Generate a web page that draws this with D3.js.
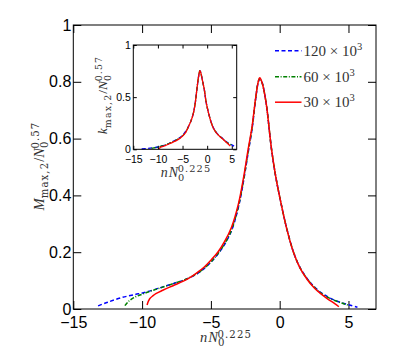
<!DOCTYPE html>
<html>
<head>
<meta charset="utf-8">
<style>
  body { margin: 0; background: #fff; }
  svg { display: block; }
  .tick text { font-family: "Liberation Sans", Arial, sans-serif; fill: #000; }
  .math { font-family: "Liberation Serif", "Times New Roman", serif; fill: #333; }
  .script { font-family: "DejaVu Serif", serif; letter-spacing: 1.1px; }
</style>
</head>
<body>
<svg width="415" height="349"></svg>
<script src="https://d3js.org/d3.v7.min.js"></script>
<script>
// ---- data ----
// main panel: M_max,2 / N0^0.57 against n N0^0.225
const blueN  = [-13.2, -12.5, -11.5, -10.5, -9.9, -9.0, -8.5, -7.5, -7.0, -6.0, -5.5, -5.0, -4.5, -4.0, -3.5, -3.0, -2.6, -2.3, -2.0, -1.75, -1.55, -1.45, -1.3, -1.0, -0.6, -0.3, 0, 0.5, 1.0, 1.5, 2.0, 2.5, 3.0, 3.5, 4.0, 4.5, 5.0, 5.65]
const blueM  = [0.011, 0.024, 0.040, 0.051, 0.057, 0.070, 0.078, 0.093, 0.101, 0.124, 0.142, 0.165, 0.193, 0.228, 0.276, 0.358, 0.458, 0.548, 0.636, 0.738, 0.800, 0.810, 0.800, 0.730, 0.565, 0.470, 0.395, 0.286, 0.201, 0.144, 0.107, 0.079, 0.058, 0.043, 0.031, 0.022, 0.015, 0.006]

const greenN = [-11.25, -11.0, -10.6, -10.0, -9.5, -9.0, -8.5, -7.5, -7.0, -6.0, -5.5, -5.0, -4.5, -4.0, -3.5, -3.0, -2.6, -2.3, -2.0, -1.75, -1.55, -1.45, -1.3, -1.0, -0.6, -0.3, 0, 0.5, 1.0, 1.5, 2.0, 2.5, 3.0, 3.5, 4.0, 4.5, 5.0]
const greenM = [0.012, 0.026, 0.040, 0.052, 0.061, 0.069, 0.077, 0.093, 0.101, 0.125, 0.143, 0.166, 0.194, 0.230, 0.279, 0.362, 0.462, 0.552, 0.640, 0.740, 0.802, 0.812, 0.800, 0.730, 0.565, 0.470, 0.395, 0.286, 0.201, 0.143, 0.106, 0.077, 0.056, 0.041, 0.030, 0.021, 0.013]

const redN   = [-9.64, -9.45, -9.2, -9.0, -8.5, -8.0, -7.5, -7.0, -6.5, -6.0, -5.5, -5.0, -4.5, -4.0, -3.5, -3.0, -2.6, -2.3, -2.0, -1.75, -1.55, -1.45, -1.3, -1.0, -0.6, -0.3, 0, 0.5, 1.0, 1.5, 2.0, 2.5, 3.0, 3.5, 4.0, 4.3]
const redM   = [0.014, 0.036, 0.047, 0.054, 0.066, 0.077, 0.087, 0.098, 0.111, 0.128, 0.147, 0.172, 0.200, 0.238, 0.288, 0.370, 0.470, 0.560, 0.645, 0.742, 0.802, 0.814, 0.800, 0.730, 0.565, 0.470, 0.395, 0.285, 0.200, 0.142, 0.104, 0.075, 0.053, 0.035, 0.019, 0.008]

// inset: k_max,2 / N0^0.57
const kBlueN  = [-13.3, -12.0, -11.0, -10.0, -9.0, -8.0, -7.0, -6.0, -5.0, -4.2, -3.8, -3.3, -2.8, -2.4, -2.1, -1.8, -1.6, -1.46, -1.3, -1.0, -0.57, -0.2, 0.3, 0.8, 1.3, 2.0, 3.0, 4.0, 5.0, 5.9]
const kBlueY  = [0.003, 0.008, 0.014, 0.022, 0.035, 0.050, 0.075, 0.098, 0.135, 0.185, 0.217, 0.270, 0.345, 0.450, 0.569, 0.680, 0.735, 0.755, 0.735, 0.670, 0.569, 0.450, 0.345, 0.262, 0.203, 0.153, 0.110, 0.070, 0.042, 0.020]

const kGreenN = [-11.3, -10.5, -9.5, -8.5, -7.5, -6.5, -5.5, -4.5, -3.8, -3.3, -2.8, -2.4, -2.1, -1.8, -1.6, -1.46, -1.3, -1.0, -0.57, -0.2, 0.3, 0.8, 1.3, 2.0, 3.0, 4.0, 5.2]
const kGreenY = [0.008, 0.016, 0.028, 0.042, 0.062, 0.084, 0.110, 0.155, 0.217, 0.270, 0.345, 0.450, 0.569, 0.680, 0.735, 0.758, 0.735, 0.670, 0.569, 0.450, 0.345, 0.261, 0.201, 0.151, 0.107, 0.066, 0.036]

const kRedN   = [-9.7, -9.5, -8.5, -7.5, -6.5, -5.5, -4.5, -3.8, -3.3, -2.8, -2.4, -2.1, -1.8, -1.6, -1.46, -1.3, -1.0, -0.57, -0.2, 0.3, 0.8, 1.3, 2.0, 3.0, 4.0, 4.7]
const kRedY   = [0.004, 0.019, 0.035, 0.057, 0.078, 0.105, 0.152, 0.217, 0.270, 0.345, 0.450, 0.569, 0.680, 0.735, 0.755, 0.735, 0.670, 0.569, 0.450, 0.345, 0.260, 0.200, 0.150, 0.105, 0.062, 0.032]

const legendLabels = ["120", "60", "30"]

const mainXTicks = [-15, -10, -5, 0, 5]
const mainXLabels = ["\u221215", "\u221210", "\u22125", "0", "5"]
const mainYTicks = [0, 0.2, 0.4, 0.6, 0.8, 1]
const mainYLabels = ["0", "0.2", "0.4", "0.6", "0.8", "1"]
const insetXTicks = [-15, -10, -5, 0, 5]
const insetXLabels = ["\u221215", "\u221210", "\u22125", "0", "5"]
const insetYTicks = [0, 0.5, 1]
const insetYLabels = ["0", "0.5", "1"]

const svg = d3.select("svg")

const series = [
  { main: [blueN, blueM], inset: [kBlueN, kBlueY], color: "#0000ff", dash: "4,2.5", label: legendLabels[0] },
  { main: [greenN, greenM], inset: [kGreenN, kGreenY], color: "#008000", dash: "4,1.6,1,1.6", label: legendLabels[1] },
  { main: [redN, redM], inset: [kRedN, kRedY], color: "#ff0000", dash: null, label: legendLabels[2] }
]

// draw one panel: box, inward ticks on all four sides, labels on two
function panel(x, y, opt) {
  const g = svg.append("g")
  const [x0, x1] = x.range(), [y0, y1] = y.range()

  g.append("rect")
    .attr("x", x0).attr("y", y1)
    .attr("width", x1 - x0).attr("height", y0 - y1)
    .attr("fill", "#fff")

  const bottom = g.append("g").attr("transform", `translate(0,${y0})`)
    .call(d3.axisBottom(x).tickValues(opt.xTicks).tickFormat((d, i) => opt.xLabels[i])
      .tickSize(-opt.tick).tickPadding(opt.xPad))
  const top = g.append("g").attr("transform", `translate(0,${y1})`)
    .call(d3.axisTop(x).tickValues(opt.xTicks).tickFormat("").tickSize(-opt.tick))
  const left = g.append("g").attr("transform", `translate(${x0},0)`)
    .call(d3.axisLeft(y).tickValues(opt.yTicks).tickFormat((d, i) => opt.yLabels[i])
      .tickSize(-opt.tick).tickPadding(opt.yPad))
  const right = g.append("g").attr("transform", `translate(${x1},0)`)
    .call(d3.axisRight(y).tickValues(opt.yTicks).tickFormat("").tickSize(-opt.tick))

  for (const a of [bottom, top, left, right]) {
    a.select(".domain").remove()
    a.selectAll(".tick line").attr("stroke", "#000").attr("stroke-width", 1)
    a.selectAll(".tick text").style("font-size", opt.font + "px")
  }

  const line = d3.line()
    .x(d => x(d[0])).y(d => y(d[1]))
    .curve(d3.curveCatmullRom.alpha(0.5))

  for (const s of series) {
    const [xs, ys] = s[opt.key]
    g.append("path")
      .datum(xs.map((v, i) => [v, ys[i]]))
      .attr("d", line)
      .attr("fill", "none")
      .attr("stroke", s.color)
      .attr("stroke-width", opt.lw)
      .attr("stroke-dasharray", s.dash)
  }

  g.append("rect")
    .attr("x", x0).attr("y", y1)
    .attr("width", x1 - x0).attr("height", y0 - y1)
    .attr("fill", "none").attr("stroke", "#000").attr("stroke-width", 1)
  return g
}

// text like  A_{sub}^{sup}  built from tspans
function mathText(sel, parts, size) {
  const t = sel.append("text").attr("class", "math").attr("text-anchor", "middle")
    .style("font-size", size + "px")
  for (const p of parts) {
    const s = t.append("tspan").text(p.t)
    if (p.it) s.style("font-style", "italic")
    if (p.sc) s.attr("class", "script").style("font-size", (size * p.sc) + "px")
    if (p.dy) s.attr("dy", p.dy)
    if (p.dx) s.attr("dx", p.dx)
  }
  return t
}

function nLabel(size) {
  return [
    { t: "n", it: true },
    { t: "N", it: true, dx: 1 },
    { t: "0", sc: 0.7, dy: size * 0.3 },
    { t: "0.225", sc: 0.7, dx: -size * 0.55, dy: -size * 0.6 }
  ]
}
function yLabel(letter, size) {
  return [
    { t: letter, it: true },
    { t: "max,2", sc: 0.7, dy: size * 0.3 },
    { t: "/", dy: -size * 0.3 },
    { t: "N", it: true },
    { t: "0", sc: 0.7, dy: size * 0.3 },
    { t: "0.57", sc: 0.7, dx: -size * 0.55, dy: -size * 0.6 }
  ]
}

// ---- main panel ----
const x = d3.scaleLinear().domain([-15, 7]).range([73.3, 376])
const y = d3.scaleLinear().domain([0, 1]).range([309, 25])
panel(x, y, { key: "main", xTicks: mainXTicks, xLabels: mainXLabels, yTicks: mainYTicks, yLabels: mainYLabels,
  tick: 8, xPad: 8, yPad: 2, font: 16, lw: 1.5 })

mathText(svg.append("g").attr("transform", "translate(226,342)"), nLabel(14.5), 14.5)
mathText(svg.append("g").attr("transform", "translate(43.5,166) rotate(-90)"), yLabel("M", 14.5), 14.5)

// legend
const legendY = [50.7, 76.7, 102.2]
series.forEach((s, i) => {
  const lg = svg.append("g").attr("transform", `translate(0,${legendY[i]})`)
  lg.append("line").attr("x1", 275).attr("x2", 301.5).attr("y1", 0).attr("y2", 0)
    .attr("stroke", s.color).attr("stroke-width", 1.5).attr("stroke-dasharray", s.dash)
  const t = lg.append("text").attr("class", "math").attr("x", 303.5).attr("y", 5)
    .style("font-size", "15px")
  t.append("tspan").text(s.label + " \u00d7 10")
  t.append("tspan").text("3").style("font-size", "10.5px").attr("dy", -6)
})

// ---- inset ----
const x2 = d3.scaleLinear().domain([-15, 6]).range([133.3, 236.7])
const y2 = d3.scaleLinear().domain([0, 1]).range([149.3, 45])
panel(x2, y2, { key: "inset", xTicks: insetXTicks, xLabels: insetXLabels, yTicks: insetYTicks, yLabels: insetYLabels,
  tick: 3.5, xPad: 6, yPad: 2.5, font: 10.5, lw: 1.3 })

mathText(svg.append("g").attr("transform", "translate(186,176.5)"), nLabel(14), 14)
mathText(svg.append("g").attr("transform", "translate(106.5,95) rotate(-90)"), yLabel("k", 13.5), 13.5)
</script>
</body>
</html>
